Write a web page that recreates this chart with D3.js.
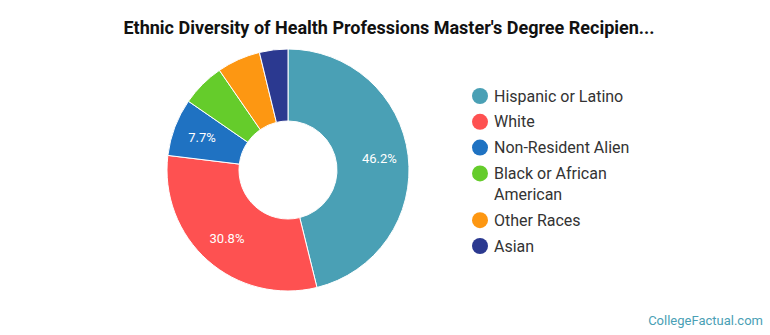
<!DOCTYPE html>
<html>
<head>
<meta charset="utf-8">
<script src="https://cdn.jsdelivr.net/npm/d3@7"></script>
<style>
  body { margin: 0; background: #fff; font-family: Roboto, "Open Sans", sans-serif; }
  svg { display: block; }
</style>
</head>
<body>
<div id="chart"></div>
<script>
// data
const categories = ['Hispanic or Latino', 'White', 'Non-Resident Alien', 'Black or African American', 'Other Races', 'Asian'];
const values = [46.2, 30.8, 7.7, 5.8, 5.8, 3.8];
const colors = ['#4aa0b5', '#fe5151', '#1f72c2', '#65cc2b', '#fd9712', '#2b3990'];
const legendLines = [['Hispanic or Latino'], ['White'], ['Non-Resident Alien'], ['Black or African', 'American'], ['Other Races'], ['Asian']];

const width = 770;
const height = 335;
const cx = 288;
const cy = 170;
const outerR = 121;
const innerR = 49;

const svg = d3.select('#chart')
  .append('svg')
    .attr('width', width)
    .attr('height', height);

svg.append('text')
  .attr('x', 389)
  .attr('y', 34)
  .attr('text-anchor', 'middle')
  .style('font-size', '18px')
  .style('font-weight', 'bold')
  .style('fill', '#111')
  .text("Ethnic Diversity of Health Professions Master's Degree Recipien...");

const color = d3.scaleOrdinal().domain(categories).range(colors);

const pie = d3.pie()
  .sort(null)
  .value(d => d.value);

const arcs = pie(categories.map((c, i) => ({ name: c, value: values[i] })));

const arc = d3.arc().innerRadius(innerR).outerRadius(outerR);
const labelArc = d3.arc().innerRadius(62).outerRadius(122);

const body = svg.append('g')
  .attr('transform', `translate(${cx},${cy})`);

body.selectAll('path')
  .data(arcs)
  .enter()
    .append('path')
      .attr('d', arc)
      .style('fill', d => color(d.data.name))
      .style('stroke', '#fff')
      .style('stroke-width', 1);

// only the bigger slices get a label
body.selectAll('.slice-label')
  .data(arcs.filter(d => d.data.value >= 7))
  .enter()
    .append('text')
      .attr('class', 'slice-label')
      .attr('transform', d => `translate(${labelArc.centroid(d)})`)
      .attr('text-anchor', 'middle')
      .attr('dy', '0.35em')
      .style('font-size', '13px')
      .style('fill', '#fff')
      .text(d => d3.format('.1f')(d.data.value) + '%');

// legend
const legend = svg.append('g')
  .attr('class', 'legend');

let ly = 96;
legendLines.forEach((lines, i) => {
  const row = legend.append('g')
    .attr('transform', `translate(480,${ly})`);
  row.append('circle')
    .attr('r', 8)
    .style('fill', colors[i]);
  lines.forEach((t, j) => {
    row.append('text')
      .attr('x', 14)
      .attr('y', j * 21)
      .attr('dy', '0.35em')
      .style('font-size', '16px')
      .style('fill', '#333')
      .text(t);
  });
  ly += 25.8 + (lines.length - 1) * 21;
});

svg.append('text')
  .attr('x', 763)
  .attr('y', 325)
  .attr('text-anchor', 'end')
  .style('font-size', '13px')
  .style('fill', '#4aa0b5')
  .text('CollegeFactual.com');
</script>
</body>
</html>
